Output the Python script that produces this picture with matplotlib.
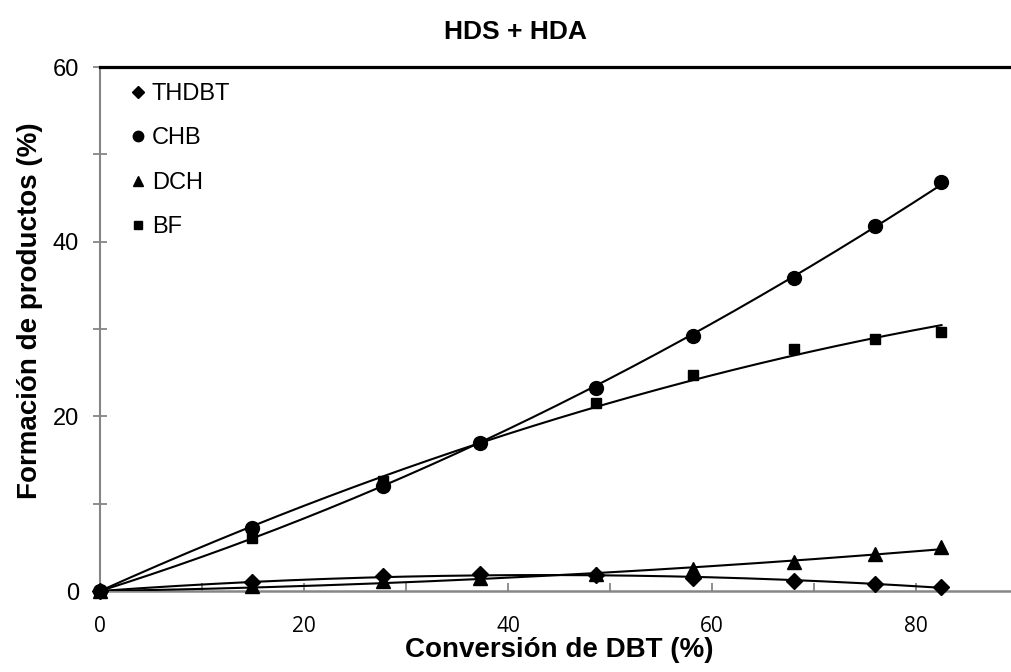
import matplotlib.pyplot as plt
import numpy as np

# conversion de DBT (%) y formacion de productos (%)
conversion = [0, 14.9, 27.7, 37.3, 48.6, 58.1, 68.0, 76.0, 82.5]
thdbt = [0, 1.0, 1.7, 1.9, 1.8, 1.5, 1.1, 0.8, 0.5]
chb = [0, 7.2, 12.0, 16.9, 23.2, 29.2, 35.8, 41.8, 46.8]
dch = [0, 0.6, 1.1, 1.5, 1.9, 2.5, 3.3, 4.2, 5.0]
bf = [0, 6.1, 12.6, 16.9, 21.5, 24.7, 27.7, 28.9, 29.7]

series = [("THDBT", thdbt, "D", 8), ("CHB", chb, "o", 10), ("DCH", dch, "^", 9.5), ("BF", bf, "s", 7)]

gris = "#868686"
plt.rcParams['font.family'] = ['Liberation Sans', 'DejaVu Sans']

fig = plt.figure(figsize=(10.12, 6.72), dpi=100)
ax = fig.add_axes([100/1012, 81/672, 918/1012, 524/672])

x = np.array(conversion)
xs = np.linspace(0, x.max(), 200)
for nombre, y, m, ms in series:
    # linea de tendencia polinomica de orden 2 con interseccion en 0
    A = np.column_stack([x, x**2])
    c = np.linalg.lstsq(A, np.array(y), rcond=None)[0]
    ax.plot(xs, c[0]*xs + c[1]*xs**2, color="black", lw=1.5, zorder=3)
    ax.plot(x, y, linestyle="none", marker=m, ms=ms, color="black", label=nombre, clip_on=False, zorder=4)

ax.set_xlim(0, 90)
ax.set_ylim(0, 60)
ax.set_xticks(np.arange(0, 81, 20))
ax.set_xticks(np.arange(0, 91, 10), minor=True)
ax.set_yticks(np.arange(0, 61, 20))
ax.set_yticks(np.arange(0, 61, 10), minor=True)

ax.spines["right"].set_visible(False)
ax.spines["top"].set_color("black")
ax.spines["top"].set_linewidth(2.3)
ax.spines["left"].set_color(gris)
ax.spines["left"].set_linewidth(1.5)
ax.spines["bottom"].set_color(gris)
ax.spines["bottom"].set_linewidth(1.8)

ax.tick_params(axis="x", which="both", direction="in", length=6, width=1.3, color=gris, pad=18)
ax.tick_params(axis="y", which="both", direction="inout", length=10, width=1.3, color=gris, pad=10)
ax.tick_params(axis="y", labelsize=17)
for t in ax.get_xticklabels():
    t.set_family(["Open Sans", "DejaVu Sans"])
    t.set_fontsize(15)

ax.set_xlabel("Conversión de DBT (%)", fontsize=20, fontweight="bold", labelpad=0)
ax.set_ylabel("Formación de productos (%)", fontsize=20, fontweight="bold")
ax.yaxis.set_label_coords(-0.062, 0.534)
fig.text(515/1012, 1 - 32/672, "HDS + HDA", fontsize=19, fontweight="bold", ha="center", va="center")

ax.legend(loc="upper left", bbox_to_anchor=(0.01, 1.01), frameon=False, fontsize=17,
          handlelength=0.6, handletextpad=0.3, labelspacing=0.95, markerscale=0.75)

fig.savefig("out.png", dpi=100)
